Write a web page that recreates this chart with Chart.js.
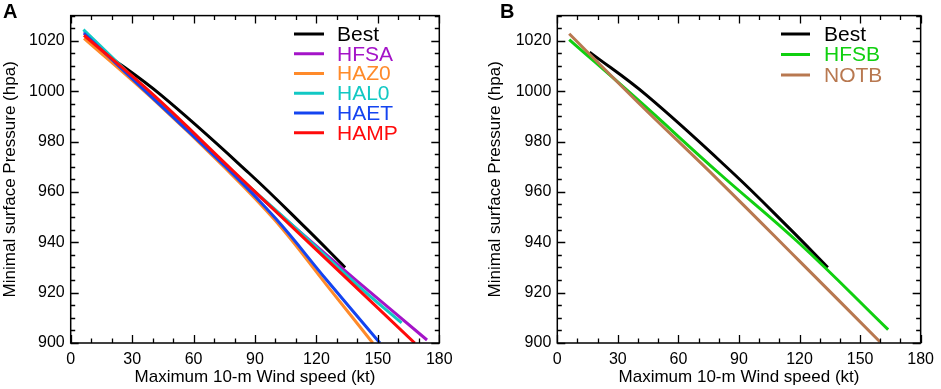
<!DOCTYPE html>
<html><head><meta charset="utf-8">
<script src="https://cdn.jsdelivr.net/npm/chart.js@4.4.1/dist/chart.umd.min.js"></script>
<style>
html,body{margin:0;padding:0;background:#fff;overflow:hidden}
#wrap{position:relative;width:941px;height:389px;background:#fff}
canvas{position:absolute;top:0}
</style></head><body>
<div id="wrap">
<canvas id="cA" width="470" height="389" style="left:0px"></canvas>
<canvas id="cB" width="471" height="389" style="left:470px"></canvas>
</div>
<script>
// ---- data ----
const windTicks = [0, 30, 60, 90, 120, 150, 180];
const pressureTicks = [900, 920, 940, 960, 980, 1000, 1020];

const bestWind = [16, 44, 87, 115, 134];
const bestPres = [1015.5, 998.5, 967.5, 945.5, 930];

const hfsaWind = [6.5, 40, 80, 110, 140, 174];
const hfsaPres = [1023.5, 997.5, 967, 945.5, 924.5, 901.2];

const haz0Wind = [6.5, 40, 75, 100, 125, 147.5];
const haz0Pres = [1021, 997, 969.8, 948.5, 923, 900];

const hal0Wind = [6.2, 40, 80, 110, 140, 161.6];
const hal0Pres = [1024.4, 998, 967.5, 945.5, 923, 908];

const haetWind = [6.5, 40, 75, 100, 125, 151];
const haetPres = [1023, 997.3, 970.5, 949.5, 925, 900];

const hampWind = [6.5, 40, 80, 120, 168];
const hampPres = [1022.2, 998.8, 967.8, 937, 900];

const hfsbWind = [5.9, 40, 80, 120, 163.9];
const hfsbPres = [1020.5, 996.5, 967.5, 939.5, 905.3];

const notbWind = [5.9, 40, 80, 120, 159.8];
const notbPres = [1022.8, 995.5, 964.5, 932.5, 900.5];

const seriesNamesA = ['Best', 'HFSA', 'HAZ0', 'HAL0', 'HAET', 'HAMP'];
const seriesNamesB = ['Best', 'HFSB', 'NOTB'];
const panelLetters = ['A', 'B'];
const xTitle = 'Maximum 10-m Wind speed (kt)';
const yTitle = 'Minimal surface Pressure (hpa)';

// ---- styles ----
const colors = {
  Best: '#000000', HFSA: '#a414c8', HAZ0: '#ff8a2a', HAL0: '#12c8c4',
  HAET: '#1444f0', HAMP: '#ff0a0a', HFSB: '#10d010', NOTB: '#b87850'
};
const FONT = '"Liberation Sans", Arial, Helvetica, sans-serif';

function pts(w, p) { return w.map((x, i) => ({ x: x, y: p[i] })); }

const seriesData = {
  Best: pts(bestWind, bestPres), HFSA: pts(hfsaWind, hfsaPres), HAZ0: pts(haz0Wind, haz0Pres),
  HAL0: pts(hal0Wind, hal0Pres), HAET: pts(haetWind, haetPres), HAMP: pts(hampWind, hampPres),
  HFSB: pts(hfsbWind, hfsbPres), NOTB: pts(notbWind, notbPres)
};

const decoPlugin = {
  id: 'deco',
  afterDatasetsDraw(chart, args, opts) {
    const { ctx, chartArea: a, scales: { x, y } } = chart;
    ctx.save();
    ctx.strokeStyle = '#000';
    ctx.lineWidth = 1.5;
    ctx.strokeRect(a.left, a.top, a.right - a.left, a.bottom - a.top);
    ctx.beginPath();
    ctx.lineWidth = 1.3;
    for (let v = x.min; v <= x.max; v += 10) {
      const px = Math.round(x.getPixelForValue(v)) + 0.5;
      const L = windTicks.includes(v) ? 8 : 4.5;
      ctx.moveTo(px, a.bottom); ctx.lineTo(px, a.bottom - L);
      ctx.moveTo(px, a.top); ctx.lineTo(px, a.top + L);
    }
    for (let v = y.min; v <= y.max; v += 5) {
      const py = Math.round(y.getPixelForValue(v)) + 0.5;
      const L = pressureTicks.includes(v) ? 8 : 4.5;
      ctx.moveTo(a.left, py); ctx.lineTo(a.left + L, py);
      ctx.moveTo(a.right, py); ctx.lineTo(a.right - L, py);
    }
    ctx.stroke();
    const lg = opts.legend;
    ctx.font = '21px ' + FONT;
    ctx.textBaseline = 'middle';
    ctx.textAlign = 'left';
    chart.data.datasets.forEach((ds, i) => {
      const yy = lg.y0 + i * lg.dy;
      ctx.strokeStyle = ds.borderColor;
      ctx.lineWidth = 3;
      ctx.beginPath();
      ctx.moveTo(lg.x1, yy); ctx.lineTo(lg.x2, yy);
      ctx.stroke();
      ctx.fillStyle = ds.borderColor;
      ctx.fillText(ds.label, lg.tx, yy + 1);
    });
    ctx.fillStyle = '#000';
    ctx.font = 'bold 20px ' + FONT;
    ctx.textBaseline = 'top';
    ctx.fillText(opts.letter, opts.letterX, 2);
    ctx.restore();
  }
};

function makeChart(canvasId, names, letter, geom) {
  const datasets = names.map((n, i) => ({
    label: n,
    data: seriesData[n],
    borderColor: colors[n],
    backgroundColor: colors[n],
    borderWidth: 3,
    pointRadius: 0,
    showLine: true,
    tension: 0.4,
    order: names.length - i
  }));
  return new Chart(document.getElementById(canvasId), {
    type: 'scatter',
    data: { datasets },
    plugins: [decoPlugin],
    options: {
      responsive: false,
      animation: false,
      devicePixelRatio: 1,
      layout: { padding: { left: geom.padLeft, right: geom.padRight, top: 8, bottom: 0 } },
      plugins: {
        legend: { display: false },
        tooltip: { enabled: false },
        deco: { legend: geom.legend, letter: letter, letterX: geom.letterX }
      },
      scales: {
        x: {
          type: 'linear', min: 0, max: 180,
          afterBuildTicks: s => { s.ticks = windTicks.map(v => ({ value: v })); },
          afterFit: s => { s.height = 46; },
          grid: { display: false, drawTicks: false },
          border: { display: false },
          ticks: { color: '#000', font: { family: FONT, size: 16 }, padding: 7, maxRotation: 0, callback: v => String(v) },
          title: { display: true, text: xTitle, color: '#000', font: { family: FONT, size: 17 }, padding: { top: 0, bottom: 1 } }
        },
        y: {
          type: 'linear', min: 900, max: 1030,
          afterBuildTicks: s => { s.ticks = pressureTicks.map(v => ({ value: v })); },
          afterFit: s => { s.width = geom.yWidth; },
          grid: { display: false, drawTicks: false },
          border: { display: false },
          ticks: { color: '#000', font: { family: FONT, size: 16 }, padding: 6, callback: v => String(v) },
          title: { display: true, text: yTitle, color: '#000', font: { family: FONT, size: 17 }, padding: { top: 0, bottom: 0 } }
        }
      }
    }
  });
}

makeChart('cA', seriesNamesA, panelLetters[0], {
  padLeft: 0, padRight: 30.7, yWidth: 70.7, letterX: 3,
  legend: { x1: 294, x2: 324, tx: 337, y0: 34, dy: 19.75 }
});
makeChart('cB', seriesNamesB, panelLetters[1], {
  padLeft: 15, padRight: 15.7, yWidth: 72.3, letterX: 30,
  legend: { x1: 311, x2: 340, tx: 354, y0: 34, dy: 20.5 }
});
</script>
</body></html>
